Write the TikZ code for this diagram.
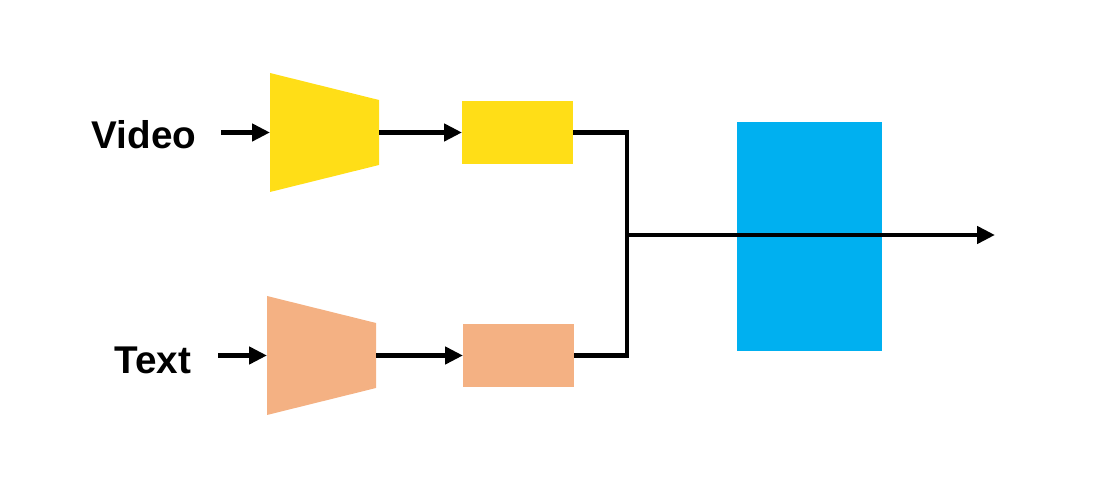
\documentclass[tikz,border=0pt]{standalone}
\usepackage{fontspec}
\setmainfont{Liberation Sans}
\usetikzlibrary{positioning,arrows.meta,calc}
\definecolor{vidyellow}{HTML}{FFDE17}
\definecolor{txtorange}{HTML}{F4B183}
\definecolor{fuseblue}{HTML}{00B0F0}

\begin{document}
\begin{tikzpicture}[>={Triangle[length=3.6mm,width=3.4mm]}, line width=2.8pt,
  font=\fontsize{22}{26}\selectfont\bfseries,
  enc/.style={minimum width=2.18cm,minimum height=2.38cm,inner sep=0pt,outer sep=0pt,
    path picture={\fill[#1] (path picture bounding box.north west)
      -- ([yshift=-5.4mm]path picture bounding box.north east)
      -- ([yshift=5.4mm]path picture bounding box.south east)
      -- (path picture bounding box.south west) -- cycle;}},
  feat/.style={fill=#1,minimum width=2.22cm,minimum height=1.26cm,inner sep=0pt,outer sep=0pt}]
  \useasboundingbox (0,0) rectangle (21.98,9.68);
  % video branch
  \node[enc=vidyellow] (venc) at (6.49,7.03) {};
  \node (vlabel) at (2.88,6.98) {Video};
  \node[feat=vidyellow,right=1.66cm of venc] (vfeat) {};
  \draw[->] (4.42,0 |- venc.west) -- (venc.west);
  \draw[->] (venc) -- (vfeat);
  % text branch
  \node[enc=txtorange] (tenc) at (6.43,2.57) {};
  \node (tlabel) at (3.06,2.48) {Text};
  \node[feat=txtorange,right=1.74cm of tenc] (tfeat) {};
  \draw[->] (4.36,0 |- tenc.west) -- (tenc.west);
  \draw[->] (tenc) -- (tfeat);
  % fusion
  \node[fill=fuseblue,minimum width=2.9cm,minimum height=4.58cm,inner sep=0pt] (fuse) at (16.19,4.95) {};
  \coordinate (join) at (12.54,4.98);
  \coordinate (out) at (19.9,4.98);
  \draw (vfeat.east) -| (join) |- (tfeat.east);
  \draw[->] (join) -- (out);
\end{tikzpicture}
\end{document}
